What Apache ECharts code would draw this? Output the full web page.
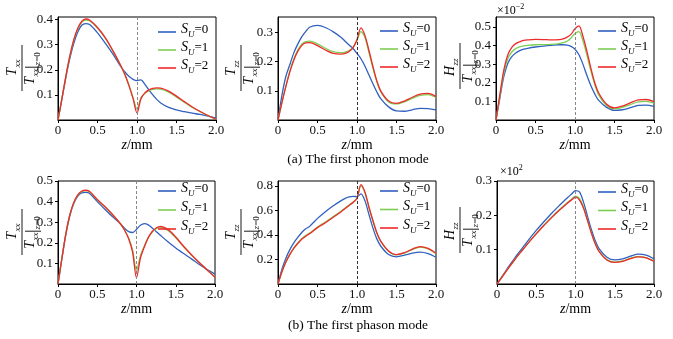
<!DOCTYPE html>
<html><head><meta charset="utf-8">
<script src="https://cdn.jsdelivr.net/npm/echarts@6/dist/echarts.min.js"></script>
<style>html,body{margin:0;padding:0;background:#fff}#c{width:673px;height:339px}</style>
</head><body><div id="c"></div>
<script>
// shared abscissa z (mm)
const z = [0,0.05,0.1,0.15,0.2,0.25,0.3,0.35,0.4,0.5,0.6,0.7,0.8,0.85,0.9,0.95,1.0,1.05,1.1,1.15,1.2,1.25,1.3,1.4,1.5,1.6,1.7,1.8,1.9,2.0];
const xTickValues = [0,0.5,1,1.5,2];
const xTickLabels = ['0','0.5','1.0','1.5','2.0'];

// (a) phonon: Txx
const a1Blue  = [0,.085,.17,.245,.305,.35,.377,.384,.38,.347,.305,.26,.21,.19,.173,.162,.157,.16,.142,.12,.1,.082,.068,.05,.04,.033,.027,.022,.015,.007];
const a1Green = [0,.085,.175,.254,.318,.362,.389,.398,.395,.366,.325,.272,.213,.179,.137,.09,.043,.088,.106,.117,.122,.124,.123,.111,.091,.07,.05,.033,.017,.003];
const a1Red   = [0,.085,.175,.255,.32,.365,.392,.402,.398,.368,.327,.273,.213,.178,.135,.085,.028,.085,.108,.12,.126,.128,.127,.115,.095,.073,.052,.034,.018,.003];
// (a) phonon: Tzz
const a2Blue  = [0,.085,.15,.19,.23,.26,.285,.303,.318,.324,.317,.302,.283,.27,.257,.245,.228,.21,.185,.155,.125,.097,.073,.045,.031,.03,.035,.04,.039,.035];
const a2Green = [0,.06,.117,.168,.209,.24,.26,.269,.27,.261,.246,.234,.231,.233,.238,.248,.272,.303,.283,.233,.18,.132,.097,.062,.055,.062,.074,.084,.087,.077];
const a2Red   = [0,.06,.115,.165,.205,.235,.255,.264,.265,.255,.24,.228,.226,.228,.235,.248,.276,.316,.29,.24,.185,.135,.1,.065,.057,.065,.078,.089,.091,.08];
// (a) phonon: Hzz (x10^-2)
const a3Blue  = [0,.12,.235,.305,.34,.36,.372,.38,.385,.392,.397,.401,.404,.404,.402,.395,.38,.35,.3,.24,.185,.14,.105,.068,.052,.055,.066,.078,.08,.073];
const a3Green = [0,.13,.255,.33,.365,.383,.393,.398,.401,.404,.405,.406,.41,.415,.423,.44,.465,.475,.425,.35,.265,.19,.135,.078,.06,.068,.083,.097,.1,.09];
const a3Red   = [0,.14,.27,.35,.39,.41,.42,.427,.43,.433,.432,.43,.432,.436,.445,.46,.49,.505,.45,.37,.28,.2,.145,.085,.065,.075,.092,.108,.11,.098];
// (b) phason: Txx
const b1Blue  = [0,.125,.24,.33,.39,.425,.442,.445,.44,.4,.362,.325,.29,.27,.254,.25,.265,.285,.293,.287,.272,.255,.238,.205,.175,.148,.122,.095,.07,.048];
const b1Green = [0,.125,.245,.334,.394,.43,.448,.453,.448,.409,.374,.334,.29,.261,.223,.165,.065,.138,.185,.225,.252,.268,.275,.26,.224,.18,.14,.103,.068,.034];
const b1Red   = [0,.125,.245,.335,.395,.432,.45,.455,.45,.41,.375,.335,.29,.26,.22,.155,.03,.125,.18,.225,.255,.272,.28,.265,.228,.183,.142,.104,.068,.033];
// (b) phason: Tzz
const b2Blue  = [0,.12,.21,.28,.335,.38,.42,.45,.47,.535,.59,.638,.68,.698,.71,.715,.712,.735,.68,.57,.46,.37,.31,.24,.222,.235,.252,.26,.248,.218];
const b2Green = [0,.1,.182,.244,.295,.335,.37,.395,.415,.465,.506,.55,.596,.62,.645,.668,.7,.8,.745,.628,.518,.418,.348,.268,.238,.252,.28,.3,.286,.247];
const b2Red   = [0,.1,.18,.24,.29,.33,.365,.39,.41,.46,.5,.545,.59,.615,.64,.665,.7,.81,.75,.63,.52,.42,.35,.27,.24,.255,.285,.305,.29,.25];
// (b) phason: Hzz (x10^2)
const b3Blue  = [0,.017,.034,.051,.067,.083,.098,.113,.128,.156,.182,.207,.23,.241,.252,.262,.272,.268,.24,.2,.16,.127,.103,.078,.07,.073,.081,.087,.084,.073];
const b3Green = [0,.016,.032,.048,.063,.078,.092,.106,.12,.147,.172,.196,.218,.228,.238,.247,.256,.249,.225,.189,.151,.119,.096,.071,.064,.067,.075,.08,.077,.067];
const b3Red   = [0,.016,.032,.048,.063,.078,.092,.106,.12,.146,.171,.194,.216,.226,.236,.245,.253,.245,.222,.187,.15,.118,.095,.07,.063,.066,.074,.079,.076,.066];

const yTicks1 = [0.1,0.2,0.3,0.4];
const yTicks2 = [0.1,0.2,0.3];
const yTicks3 = [0.1,0.2,0.3,0.4,0.5];
const yTicks4 = [0.1,0.2,0.3,0.4,0.5];
const yTicks5 = [0.2,0.4,0.6,0.8];
const yTicks6 = [0.1,0.2,0.3];

const seriesNames = ['SU0','SU1','SU2'];
const legendValues = ['0','1','2'];
const captionA = '(a) The first phonon mode';
const captionB = '(b) The first phason mode';

const SERIF = 'Liberation Serif';
const colors = ['#3060c0','#7ccf55','#ee2a2a'];

const panels = [
  {grid:{left:58,top:17,width:158,height:103}, ymax:0.41, yTicks:yTicks1, data:[a1Blue,a1Green,a1Red], num:['T','xx'], frac:[22,68], leg:[158,22], dash:'#888', gap:1},
  {grid:{left:278,top:17,width:158,height:103}, ymax:0.353, yTicks:yTicks2, data:[a2Blue,a2Green,a2Red], num:['T','zz'], frac:[241,68], leg:[380,21], dash:'#333', gap:1},
  {grid:{left:496,top:17,width:158,height:103}, ymax:0.553, yTicks:yTicks3, data:[a3Blue,a3Green,a3Red], num:['H','zz'], frac:[460,66], leg:[598,21], dash:'#888', gap:1},
  {grid:{left:58,top:181,width:157,height:103}, ymax:0.5, yTicks:yTicks4, data:[b1Blue,b1Green,b1Red], num:['T','xx'], frac:[22,232], leg:[158,181], dash:'#888', gap:2},
  {grid:{left:278,top:181,width:158,height:103}, ymax:0.84, yTicks:yTicks5, data:[b2Blue,b2Green,b2Red], num:['T','zz'], frac:[241,232], leg:[380,181], dash:'#333', gap:1.5},
  {grid:{left:497,top:181,width:157,height:103}, ymax:0.3, yTicks:yTicks6, data:[b3Blue,b3Green,b3Red], num:['H','zz'], frac:[460,230], leg:[598,182], dash:'#888', gap:1.5}
];

function txt(x, y, s, size, italic, align, va){
  return {type:'text', x:x, y:y, style:{text:s, fill:'#000',
    font:(italic?'italic ':'')+size+'px "Liberation Serif"', align:align, verticalAlign:va}};
}
function frac(cx, cy, num){
  return {type:'group', x:cx, y:cy, rotation:Math.PI/2, silent:true, children:[
    txt(0, -2.5, num[0], 14, true, 'right', 'bottom'),
    txt(0.5, 0.5, num[1], 9, true, 'left', 'bottom'),
    {type:'line', shape:{x1:-23,y1:0,x2:23,y2:0}, style:{stroke:'#000', lineWidth:0.9}},
    txt(-9, 1.5, 'T', 14, true, 'right', 'top'),
    txt(-8.5, 9, 'xx', 9, true, 'left', 'top'),
    {type:'line', shape:{x1:0.8,y1:3,x2:0.8,y2:19}, style:{stroke:'#000', lineWidth:0.9}},
    txt(2.5, 11.5, 'z', 9, true, 'left', 'top'),
    txt(6.2, 11.5, '=0', 9, false, 'left', 'top')
  ]};
}

const grids=[], xAxes=[], yAxes=[], series=[], legends=[], graphics=[];
panels.forEach((p, k)=>{
  grids.push(Object.assign({show:true, borderColor:'#000', borderWidth:1, containLabel:false, outerBoundsMode:'none'}, p.grid));
  xAxes.push({gridIndex:k, type:'value', min:0, max:2, interval:0.5,
    axisLine:{show:true, onZero:false, lineStyle:{color:'#000', width:1}},
    axisTick:{show:true, length:3, lineStyle:{color:'#000'}},
    splitLine:{show:false},
    axisLabel:{margin:4, fontFamily:SERIF, fontSize:13, color:'#111',
      formatter:v=>{const j=xTickValues.indexOf(v); return j<0?'':xTickLabels[j];}},
    name:'{i|z}{n|/mm}', nameLocation:'middle', nameGap:15,
    nameTextStyle:{rich:{i:{fontFamily:SERIF, fontStyle:'italic', fontSize:14, color:'#000'}, n:{fontFamily:SERIF, fontSize:14, color:'#000'}}}
  });
  yAxes.push({gridIndex:k, type:'value', min:0, max:p.ymax,
    axisLine:{show:true, onZero:false, lineStyle:{color:'#000', width:1}},
    axisTick:{show:true, length:3, customValues:p.yTicks, lineStyle:{color:'#000'}},
    splitLine:{show:false},
    axisLabel:{margin:5, fontFamily:SERIF, fontSize:13, color:'#111', customValues:p.yTicks, formatter:v=>v.toFixed(1)}
  });
  p.data.forEach((vals, j)=>{
    const s = {type:'line', name:seriesNames[j], xAxisIndex:k, yAxisIndex:k,
      data:z.map((x,i)=>[x, vals[i]]), showSymbol:false, symbol:'none', smooth:0.3,
      lineStyle:{color:colors[j], width:1.3}, itemStyle:{color:colors[j]}, silent:true, z:2+j};
    if(j===0){
      s.markLine = {silent:true, symbol:'none', label:{show:false},
        lineStyle:{color:p.dash, type:[3,2], width:1}, data:[{xAxis:1}]};
    }
    series.push(s);
  });
  legends.push({left:p.leg[0], top:p.leg[1], orient:'vertical', icon:'rect', itemWidth:18, itemHeight:1.6,
    itemGap:p.gap, selectedMode:false, data:seriesNames, padding:0,
    formatter:name=>'{i|S}{s|U}{n|='+legendValues[seriesNames.indexOf(name)]+'}',
    textStyle:{color:'#000', rich:{
      i:{fontFamily:SERIF, fontStyle:'italic', fontSize:14, lineHeight:14, verticalAlign:'bottom', padding:[0,0,3,0]},
      s:{fontFamily:SERIF, fontStyle:'italic', fontSize:9, lineHeight:14, verticalAlign:'bottom'},
      n:{fontFamily:SERIF, fontSize:13, lineHeight:14, verticalAlign:'bottom', padding:[0,0,3,0]}}}
  });
  graphics.push(frac(p.frac[0], p.frac[1], p.num));
});

const expRich = {n:{fontFamily:SERIF, fontSize:12, verticalAlign:'bottom'}, p:{fontFamily:SERIF, fontSize:8, verticalAlign:'bottom', padding:[0,0,6,0]}};
graphics.push({type:'text', x:497, y:10, silent:true, style:{text:'{n|×10}{p|\u22122}', rich:expRich, verticalAlign:'middle', fill:'#000'}});
graphics.push({type:'text', x:500, y:171, silent:true, style:{text:'{n|×10}{p|2}', rich:expRich, verticalAlign:'middle', fill:'#000'}});
graphics.push({type:'text', x:358, y:159, silent:true, style:{text:captionA, font:'13.5px "Liberation Serif"', align:'center', verticalAlign:'middle', fill:'#000'}});
graphics.push({type:'text', x:358, y:325, silent:true, style:{text:captionB, font:'13.5px "Liberation Serif"', align:'center', verticalAlign:'middle', fill:'#000'}});

const chart = echarts.init(document.getElementById('c'), null, {renderer:'canvas', width:673, height:339});
chart.setOption({
  animation:false, backgroundColor:'#fff',
  grid:grids, xAxis:xAxes, yAxis:yAxes, series:series, legend:legends, graphic:graphics
});
</script></body></html>
